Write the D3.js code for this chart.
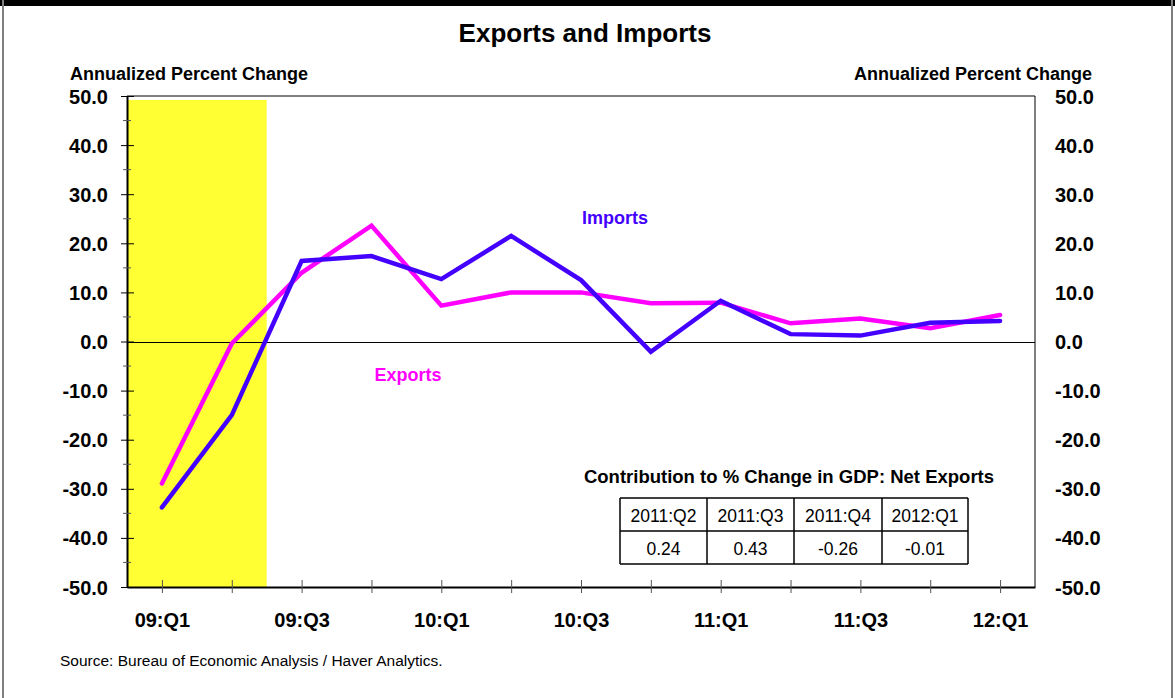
<!DOCTYPE html>
<html>
<head>
<meta charset="utf-8">
<script src="https://cdn.jsdelivr.net/npm/d3@7/dist/d3.min.js"></script>
<style>
  html, body { margin: 0; padding: 0; background: #fff; }
  svg { display: block; font-family: "Liberation Sans", Arial, sans-serif; }
</style>
</head>
<body>
<svg id="chart" width="1175" height="698"></svg>
<script>
// Quarterly annualized percent change, 2009:Q1 - 2012:Q1
const quarters = ["09:Q1","09:Q2","09:Q3","09:Q4","10:Q1","10:Q2","10:Q3","10:Q4","11:Q1","11:Q2","11:Q3","11:Q4","12:Q1"];
const exportsPct = [-28.9, -0.4, 14.0, 23.6, 7.3, 10.0, 10.0, 7.8, 7.9, 3.7, 4.7, 2.7, 5.4];
const importsPct = [-33.8, -15.0, 16.4, 17.4, 12.7, 21.5, 12.5, -2.1, 8.3, 1.5, 1.2, 3.8, 4.2];
const xTickLabels = ["09:Q1","09:Q3","10:Q1","10:Q3","11:Q1","11:Q3","12:Q1"];
const yTicks = [50, 40, 30, 20, 10, 0, -10, -20, -30, -40, -50];
const yMinorTicks = [45, 35, 25, 15, 5, -5, -15, -25, -35, -45];
// Recession shading: 2009:Q1 through mid 2009:Q2
const recession = { from: -0.5, to: 1.5 };
// Net exports contribution table
const tableQuarters = ["2011:Q2", "2011:Q3", "2011:Q4", "2012:Q1"];
const tableValues = ["0.24", "0.43", "-0.26", "-0.01"];

const svg = d3.select("#chart");
const W = 1175, H = 698;
const plot = { left: 127, right: 1035, top: 96, bottom: 587 };
const fmt = d => d.toFixed(1);

// Frame
svg.append("rect").attr("x", 0).attr("y", 0).attr("width", W).attr("height", 6).attr("fill", "#000");
svg.append("rect").attr("x", 2).attr("y", 0).attr("width", 2).attr("height", H).attr("fill", "#7f7f7f");
svg.append("rect").attr("x", 1171).attr("y", 0).attr("width", 2).attr("height", H).attr("fill", "#7f7f7f");

const x = d3.scalePoint().domain(quarters).range([plot.left, plot.right]).padding(0.5);
const step = x.step();
const xi = i => x(quarters[0]) + i * step;
const y = d3.scaleLinear().domain([-50, 50]).range([plot.bottom, plot.top]);

// Recession band
svg.append("rect")
  .attr("x", plot.left)
  .attr("y", y(49.2))
  .attr("width", xi(recession.to) - plot.left)
  .attr("height", plot.bottom - y(49.2))
  .attr("fill", "#ffff33");

// Plot frame
svg.append("path")
  .attr("d", `M${plot.left},${plot.top}H${plot.right}V${plot.bottom}`)
  .attr("fill", "none").attr("stroke", "#000").attr("stroke-width", 1);

// Zero line
svg.append("line")
  .attr("x1", plot.left).attr("x2", plot.right)
  .attr("y1", Math.round(y(0)) + 0.5).attr("y2", Math.round(y(0)) + 0.5)
  .attr("stroke", "#000").attr("stroke-width", 1);

// Left axis
const yAxisL = d3.axisLeft(y).tickValues(yTicks).tickFormat(fmt).tickSizeInner(6).tickSizeOuter(0).tickPadding(13);
const gL = svg.append("g").attr("transform", `translate(${plot.left},0)`).call(yAxisL);
gL.selectAll(".tick line").attr("x2", -6).attr("x1", 7).attr("stroke", "#000");
gL.selectAll(".tick text").attr("x", -19).attr("font-size", 20).attr("font-weight", "bold").attr("fill", "#000").attr("dy", "0.35em");
gL.select(".domain").attr("stroke", "#000").attr("stroke-width", 2);
gL.selectAll(".minor").data(yMinorTicks).enter().append("line")
  .attr("x1", -4).attr("x2", 4)
  .attr("y1", d => y(d)).attr("y2", d => y(d))
  .attr("stroke", "#555");

// Right axis labels (no tick marks)
const yAxisR = d3.axisRight(y).tickValues(yTicks).tickFormat(fmt).tickSize(0).tickPadding(20);
const gR = svg.append("g").attr("transform", `translate(${plot.right},0)`).call(yAxisR);
gR.select(".domain").remove();
gR.selectAll(".tick text").attr("font-size", 20).attr("font-weight", "bold").attr("fill", "#000").attr("dy", "0.35em");

// Bottom axis
const xAxis = d3.axisBottom(x).tickSize(0).tickFormat(d => xTickLabels.includes(d) ? d : "").tickPadding(26);
const gX = svg.append("g").attr("transform", `translate(0,${plot.bottom})`).call(xAxis);
gX.select(".domain").attr("stroke", "#000").attr("stroke-width", 2);
gX.selectAll(".tick text").attr("font-size", 20).attr("font-weight", "bold").attr("fill", "#000");
gX.selectAll(".tick").append("line").attr("y1", -7).attr("y2", 6).attr("stroke", "#555");

// Lines
const line = d3.line().x((d, i) => x(quarters[i])).y(d => y(d));
svg.append("path").datum(exportsPct).attr("d", line)
  .attr("fill", "none").attr("stroke", "#ff00ff").attr("stroke-width", 4.5).attr("stroke-linejoin", "miter").attr("stroke-linecap", "round");
svg.append("path").datum(importsPct).attr("d", line)
  .attr("fill", "none").attr("stroke", "#4400ff").attr("stroke-width", 4.5).attr("stroke-linejoin", "miter").attr("stroke-linecap", "round");

// Series labels
svg.append("text").attr("x", 615).attr("y", 224).attr("text-anchor", "middle")
  .attr("font-size", 18).attr("font-weight", "bold").attr("fill", "#4400ff").text("Imports");
svg.append("text").attr("x", 408).attr("y", 381).attr("text-anchor", "middle")
  .attr("font-size", 18).attr("font-weight", "bold").attr("fill", "#ff00ff").text("Exports");

// Titles
svg.append("text").attr("x", 585).attr("y", 42).attr("text-anchor", "middle")
  .attr("font-size", 26).attr("font-weight", "bold").attr("fill", "#000").text("Exports and Imports");
svg.append("text").attr("x", 70).attr("y", 80).attr("text-anchor", "start")
  .attr("font-size", 18).attr("font-weight", "bold").attr("fill", "#000").text("Annualized Percent Change");
svg.append("text").attr("x", 1092).attr("y", 80).attr("text-anchor", "end")
  .attr("font-size", 18).attr("font-weight", "bold").attr("fill", "#000").text("Annualized Percent Change");

// Source
svg.append("text").attr("x", 60).attr("y", 666)
  .attr("font-size", 15.5).attr("fill", "#000").text("Source: Bureau of Economic Analysis / Haver Analytics.");

// Contribution table
svg.append("text").attr("x", 789).attr("y", 483).attr("text-anchor", "middle")
  .attr("font-size", 18.5).attr("font-weight", "bold").attr("fill", "#000").text("Contribution to % Change in GDP: Net Exports");
const tbl = { left: 620, top: 498, colW: [87, 87, 88, 86], rowH: [33, 33] };
const colX = [tbl.left];
tbl.colW.forEach(w => colX.push(colX[colX.length - 1] + w));
const rowY = [tbl.top, tbl.top + tbl.rowH[0], tbl.top + tbl.rowH[0] + tbl.rowH[1]];
const gT = svg.append("g");
rowY.forEach(yy => gT.append("line").attr("x1", colX[0]).attr("x2", colX[4]).attr("y1", yy).attr("y2", yy).attr("stroke", "#000").attr("stroke-width", 1.5));
colX.forEach(xx => gT.append("line").attr("x1", xx).attr("x2", xx).attr("y1", rowY[0]).attr("y2", rowY[2]).attr("stroke", "#000").attr("stroke-width", 1.5));
[tableQuarters, tableValues].forEach((row, r) => {
  row.forEach((t, c) => {
    gT.append("text")
      .attr("x", (colX[c] + colX[c + 1]) / 2)
      .attr("y", (rowY[r] + rowY[r + 1]) / 2 + 1)
      .attr("dy", "0.35em")
      .attr("text-anchor", "middle")
      .attr("font-size", 17.5).attr("fill", "#000").text(t);
  });
});
</script>
</body>
</html>
